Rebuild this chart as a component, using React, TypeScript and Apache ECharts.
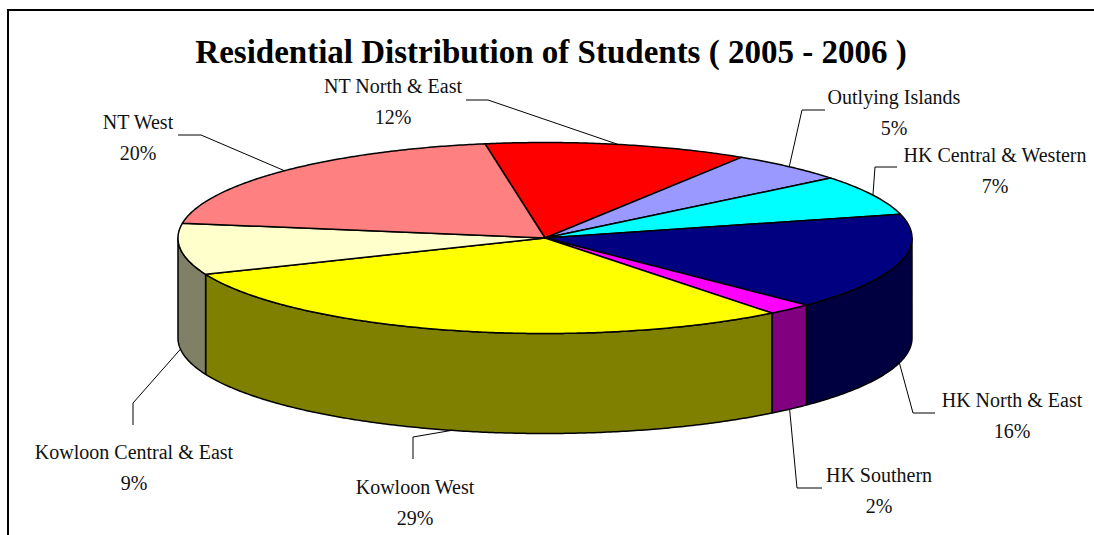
import React, { useEffect, useRef } from "react";
import * as echarts from "echarts";

// ---- data (clockwise from the top) ----
const categories = [
  "NT North & East",
  "Outlying Islands",
  "HK Central & Western",
  "HK North & East",
  "HK Southern",
  "Kowloon West",
  "Kowloon Central & East",
  "NT West",
];
const shares = [11.6, 5.2, 6.8, 16.4, 2.0, 29.4, 8.7, 19.9];
const topColors = ["#FF0000", "#9999FF", "#00FFFF", "#000080", "#FF00FF", "#FFFF00", "#FFFFCC", "#FF8080"];
const sideColors = ["#800000", "#4D4D80", "#008080", "#000040", "#800080", "#808000", "#808066", "#804040"];
const titleText = "Residential Distribution of Students ( 2005 - 2006 )";

// ---- layout ----
const CX = 545;
const CY = 238;
const RX = 367;
const RY = 95.5;
const DEPTH = 100;
const START_ANGLE = -9.4; // degrees clockwise from 12 o'clock
const LABEL_FONT = '20px "Liberation Serif", "Times New Roman", serif';
const LINE_GAP = 31;
const labelLayout = [
  { x: 393, y: 93, elbow: [488, 100], end: [466, 100] },
  { x: 894, y: 104, elbow: [802, 110], end: [825, 110] },
  { x: 995, y: 162, elbow: [875, 167], end: [897, 167] },
  { x: 1012, y: 407, elbow: [913, 413], end: [935, 413] },
  { x: 879, y: 482, elbow: [797, 488], end: [822, 488] },
  { x: 415, y: 494, elbow: [413, 437], end: [413, 459] },
  { x: 134, y: 459, elbow: [133, 403], end: [133, 425] },
  { x: 138, y: 129, elbow: [201, 135], end: [178, 135] },
];

function pt(deg: number, dy = 0): number[] {
  const r = (deg * Math.PI) / 180;
  return [CX + RX * Math.sin(r), CY - RY * Math.cos(r) + dy];
}

function arc(a1: number, a2: number, dy = 0): number[][] {
  const n = Math.max(2, Math.ceil(Math.abs(a2 - a1) / 0.5));
  const out: number[][] = [];
  for (let k = 0; k <= n; k++) out.push(pt(a1 + ((a2 - a1) * k) / n, dy));
  return out;
}

export default function App() {
  const ref = useRef<HTMLDivElement>(null);
  useEffect(() => {
    if (!ref.current) return;
    const chart = echarts.init(ref.current, null, { renderer: "svg" });
    const total = shares.reduce((s, v) => s + v, 0);
    let cum = 0;
    const data = shares.map((v, i) => {
      const item = { name: categories[i], value: [v, cum, total] };
      cum += v;
      return item;
    });

    const renderItem = (params: any, api: any) => {
      const i = params.dataIndex;
      const v = api.value(0);
      const before = api.value(1);
      const tot = api.value(2);
      const a1 = START_ANGLE + (360 * before) / tot;
      const a2 = a1 + (360 * v) / tot;
      const children: any[] = [];

      // side wall (front half only: 90..270 deg)
      const s = Math.max(a1, 90);
      const e = Math.min(a2, 270);
      if (s < e) {
        const pts = arc(s, e, 0).concat(arc(e, s, DEPTH));
        children.push({
          type: "polygon",
          z2: 1,
          shape: { points: pts },
          style: { fill: sideColors[i], stroke: "#000", lineWidth: 1.5, lineJoin: "round" },
        });
      }

      // top face
      children.push({
        type: "polygon",
        z2: 2,
        shape: { points: [[CX, CY]].concat(arc(a1, a2, 0)) },
        style: { fill: topColors[i], stroke: "#000", lineWidth: 1.5, lineJoin: "round" },
      });

      // leader line
      const m = (a1 + a2) / 2;
      const front = Math.cos((m * Math.PI) / 180) < 0;
      const anchor = pt(m, front ? DEPTH : 0);
      const L = labelLayout[i];
      children.push({
        type: "polyline",
        z2: 3,
        shape: { points: [anchor, L.elbow, L.end] },
        style: { stroke: "#000", lineWidth: 1, fill: null },
      });

      // label text
      const pct = Math.round((100 * v) / tot) + "%";
      children.push({
        type: "text",
        z2: 4,
        x: L.x,
        y: L.y - 7,
        style: { text: categories[i], font: LABEL_FONT, fill: "#111", textAlign: "center", textVerticalAlign: "middle" },
      });
      children.push({
        type: "text",
        z2: 4,
        x: L.x,
        y: L.y + LINE_GAP - 7,
        style: { text: pct, font: LABEL_FONT, fill: "#111", textAlign: "center", textVerticalAlign: "middle" },
      });
      return { type: "group", children };
    };

    chart.setOption({
      animation: false,
      backgroundColor: "#ffffff",
      graphic: [
        {
          type: "polyline",
          shape: { points: [[8, 535], [8, 10], [1094, 10]] },
          style: { stroke: "#000", lineWidth: 2, fill: null },
        },
        {
          type: "text",
          x: 551,
          y: 52,
          style: {
            text: titleText,
            font: 'bold 33px "Liberation Serif", "Times New Roman", serif',
            fill: "#000",
            textAlign: "center",
            textVerticalAlign: "middle",
          },
        },
      ],
      series: [
        {
          type: "custom",
          coordinateSystem: "none",
          data,
          renderItem,
        },
      ],
    });
    return () => chart.dispose();
  }, []);
  return (
    <div
      ref={ref}
      style={{ position: "absolute", left: 0, top: 0, width: 1094, height: 535, background: "#fff" }}
    />
  );
}
